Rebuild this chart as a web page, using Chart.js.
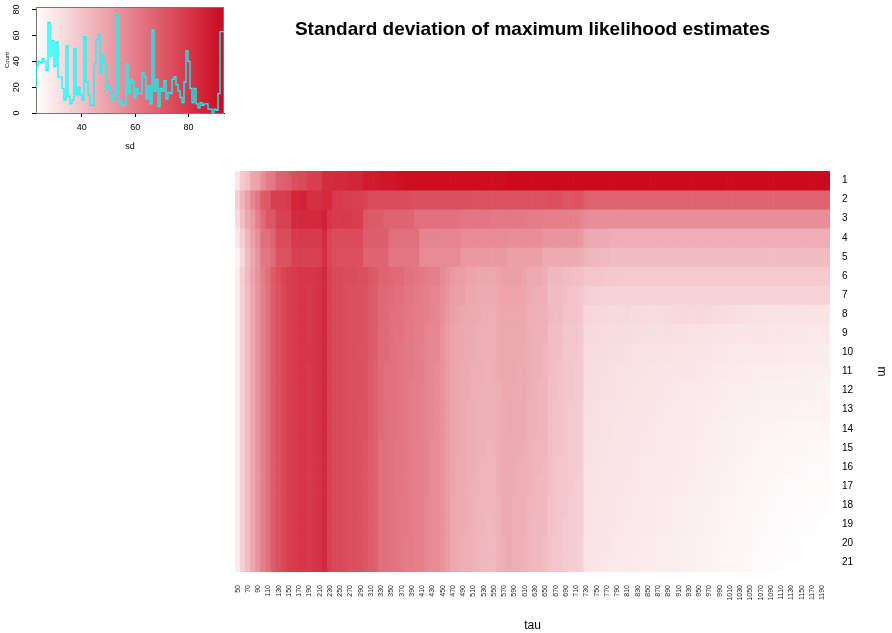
<!DOCTYPE html>
<html>
<head>
<meta charset="utf-8">
<script src="https://cdn.jsdelivr.net/npm/chart.js@4"></script>
<style>
    body { margin: 0; background: #fff; }
    #wrap { position: relative; width: 892px; height: 633px; }
    #heat { position: absolute; left: 0; top: 0; }
    #key { position: absolute; left: 0; top: 0; }
    #title {
        position: absolute; left: 235px; width: 595px; top: 18px;
        text-align: center; font: bold 19px "Liberation Sans", Arial, sans-serif; color: #000;
    }
</style>
</head>
<body>
<div id="wrap">
    <canvas id="heat" width="892" height="633"></canvas>
    <canvas id="key" width="230" height="158"></canvas>
    <div id="title">Standard deviation of maximum likelihood estimates</div>
</div>
<script>
const tau = [50,60,70,80,90,100,110,120,130,140,150,160,170,180,190,200,210,220,230,240,250,260,270,280,290,300,310,320,330,340,350,360,370,380,390,400,410,420,430,440,450,460,470,480,490,500,510,520,530,540,550,560,570,580,590,600,610,620,630,640,650,660,670,680,690,700,710,720,730,740,750,760,770,780,790,800,810,820,830,840,850,860,870,880,890,900,910,920,930,940,950,960,970,980,990,1000,1010,1020,1030,1040,1050,1060,1070,1080,1090,1100,1110,1120,1130,1140,1150,1160,1170,1180,1190,1200]
const mLabels = ['1','2','3','4','5','6','7','8','9','10','11','12','13','14','15','16','17','18','19','20','21']

// sd of the estimates, one array per m, columns follow tau
const sdM1 = [30,38,41,48,49,55,60,61,67,68, 69,73,74,74,77,78,78,83,83,84, 84,84,85,85,85,88,88,88,89,89, 89,90,91,92,92,92,92,92,92,92, 92,92,92,92,92,92,92,92,92,92, 92,92,92,93,93,93,93,93,93,93, 93,93,93,93,93,93,93,93,93,93, 93,93,93,93,93,93,93,93,93,93, 93,93,93,93,93,93,93,93,93,93, 93,93,93,93,93,93,93,93,93,93, 93,93,93,93,93,93,93,93,93,93, 93,93,93,93,93,93]
const sdM2 = [37,44,50,57,62,70,70,78,78,78, 79,85,85,86,82,82,82,84,84,79, 79,78,78,77,77,76,74,74,74,74, 74,74,74,74,73,73,73,73,73,73, 73,73,73,73,73,73,72,72,72,72, 72,72,72,72,72,72,72,72,72,72, 72,73,73,73,71,71,72,72,68,67, 67,67,67,67,67,67,67,67,67,67, 67,67,67,67,67,67,67,67,67,67, 67,67,67,67,67,67,67,67,67,67, 67,67,67,67,67,67,67,67,67,67, 67,67,67,67,67,67]
const sdM3 = [33,41,48,52,59,65,71,71,77,77, 77,84,84,84,84,84,84,86,80,79, 79,79,79,78,78,71,70,70,70,67, 67,67,67,67,67,64,64,64,64,64, 64,64,64,63,62,62,62,62,62,62, 61,61,61,61,61,61,61,60,60,60, 59,59,59,59,59,59,59,58,56,55, 55,55,55,55,55,55,55,55,55,55, 55,55,55,55,55,55,55,55,55,55, 55,55,55,55,55,55,55,55,55,55, 55,55,55,55,55,55,55,55,55,55, 55,55,55,55,55,55]
const sdM4 = [30,37,44,50,55,64,64,67,74,74, 74,79,79,79,79,79,79,84,76,74, 74,74,74,74,74,69,69,69,69,69, 64,64,64,64,64,64,58,58,58,58, 58,58,58,58,56,56,56,56,56,56, 56,56,56,55,55,55,55,55,55,55, 53,53,53,53,53,53,53,52,48,47, 47,47,47,46,46,46,46,46,46,46, 46,46,46,46,46,46,46,46,46,46, 46,46,46,46,46,46,46,46,46,46, 46,46,46,46,46,46,46,46,46,46, 46,46,46,46,46,46]
const sdM5 = [27,34,42,48,53,62,62,65,72,72, 72,77,77,77,77,77,77,82,76,74, 73,73,73,73,73,67,67,67,67,67, 62,62,62,62,62,62,56,56,56,56, 56,56,56,56,52,52,52,52,52,52, 52,52,52,50,50,50,50,50,50,50, 47,47,47,47,47,47,47,46,44,43, 43,43,43,42,42,42,42,42,42,42, 42,42,42,42,42,42,42,42,42,42, 42,42,42,42,42,42,42,42,42,42, 42,42,42,42,42,42,42,42,42,42, 42,42,42,42,42,42]
const sdM6 = [28,37,43,49,54,60,64,70,73,76, 78,79,80,80,80,80,81,84,77,75, 75,74,74,74,73,73,71,70,67,67, 66,65,65,63,63,62,61,60,59,59, 56,54,52,51,51,49,49,48,48,48, 48,49,50,50,50,50,49,47,47,47, 46,43,43,43,42,42,41,41,
    39,39,39,39,38.5,38.5,38.5,38, 38,38,38,38,38,38,38,38,38,38, 38,38,38,38,38,38,38,38,38,38, 38,38,38,38,38,38,38,38,38,38, 38,38,38,38,38,38,38,38,38,38]
const sdM7 = [28,36,42,48,53,59,63,69,72,75, 78,79,80,80,79,80,81,84,77,75, 75,74,73,73,73,72,70,69,66,66, 65,64,64,62,62,61,60,59,58,58, 55,53,51,50,50,48,48,47,47,47, 47,48,49,49,49,49,48,47,46,46, 45,42,42,42,41,40,40,39,
    37,36,36,35.5,35.5,35.5,35,35, 35,35,35,35,35,35,35,35,35,35, 35,35,35,35,35,35,35,35,35,35, 35,35,35,35,35,35,35,35,35,35, 35,35,35,35,35,35,35,35,35,35]
const sdM8 = [28,36,42,48,53,59,63,69,72,75, 78,79,80,80,79,80,81,84,77,75, 75,74,73,73,73,72,70,69,66,65, 64,64,63,62,61,60,60,59,58,57, 55,52,50,49,48,48,47,47,46,46, 46,47,48,48,48,48,48,46,46,45, 45,43,42,42,40,40,40,39,
    34.5,34.1,34.1,33.8,33.8,33.4,33.4,33.4,33.6, 33.2,33.0,33.0,32.9,32.8,32.8, 33.0,33.2,33.4,33.6,33.8,33.6,33.4, 33.6,33.8,33.4,33.0,32.6,32.4,32.2,32.0, 31.8,31.6,31.5,31.4,31.3,31.3,31.2,31.2, 31.1,31.1,31.0,31.0,31.0,30.9,30.9,30.8,30.8,30.8]
const sdM9 = [28,36,42,48,53,59,63,69,72,75, 78,79,80,80,79,80,81,84,77,75, 75,74,73,73,73,72,70,69,65,65, 64,63,63,61,61,60,60,58,57,57, 54,51,49,48,48,47,47,46,46,46, 46,47,48,48,48,48,48,46,45,45, 45,42,41,41,39,39,39,38,
    33.6,33.4,33.2,33.0,32.8,32.6,32.6,32.4,32.4, 32.2,32.0,32.0,31.8,31.8,31.6, 31.6,31.8,31.8,31.6,31.6,31.4,31.4, 31.2,31.0,31.0,30.8,30.6,30.4,30.4,30.2, 30.0,30.0,29.9,30.4,30.6,30.2,29.9,29.8, 29.8,29.7,29.7,29.6,29.6,29.5,29.5,29.4,29.4,29.4]
const sdM10 = [28,36,42,48,53,59,63,69,72,75, 78,79,80,80,80,80,81,84,77,75, 75,74,73,73,72,72,70,69,65,65, 64,63,62,61,61,60,59,58,57,57, 54,51,49,48,48,47,47,46,46,46, 46,47,48,48,48,48,47,46,45,45, 44,42,41,41,39,39,39,38,
    33.0,32.8,32.6,32.4,32.2,32.0,31.8,31.8,31.6, 31.4,31.2,31.2,31.0,31.0,30.8, 30.8,30.8,30.6,30.6,30.4,30.4,30.2, 30.2,30.0,30.0,29.8,29.6,29.6,29.4,29.4, 29.2,29.2,29.0,29.0,28.9,28.8,28.8,28.7, 28.7,28.6,28.6,28.5,28.5,28.4,28.4,28.4,28.3,28.3]
const sdM11 = [28,36,42,48,53,59,63,69,72,75, 78,79,80,80,79,80,81,84,77,75, 75,74,73,73,73,72,70,68,65,64, 64,63,62,61,61,60,60,58,57,56, 54,51,49,48,47,47,46,46,46,45, 46,47,48,48,48,47,47,46,45,45, 44,42,41,40,39,39,38,38,
    32.6,32.4,32.2,32.0,31.8,31.6,31.4,31.4,31.2, 31.0,30.8,30.8,30.6,30.6,30.4, 30.4,30.2,30.2,30.0,30.0,29.8,29.8, 29.6,29.6,29.4,29.2,29.0,29.0,28.8,28.6, 28.5,28.4,28.3,28.2,28.1,28.0,27.9,27.8, 27.8,27.7,27.7,27.6,27.6,27.5,27.5,27.4,27.4,27.4]
const sdM12 = [28,36,42,48,53,59,63,69,72,75, 78,79,80,80,79,80,81,84,77,75, 75,74,73,73,73,72,70,68,65,64, 64,63,62,61,60,60,59,58,57,56, 54,51,49,48,47,47,46,46,45,45, 45,46,48,48,47,47,47,46,45,44, 44,41,41,40,39,39,38,38,
    32.3,32.1,31.9,31.7,31.5,31.3,31.1,31.0,30.9, 30.7,30.5,30.4,30.3,30.2,30.0, 29.9,29.8,29.7,29.6,29.5,29.4,29.3, 29.2,29.0,28.9,28.7,28.5,28.3,28.1,28.0, 27.9,27.8,27.7,27.6,27.5,27.4,27.3,27.2, 27.1,27.0,27.0,26.9,26.9,26.8,26.8,26.7,26.7,26.6]
const sdM13 = [28,36,42,48,53,59,63,69,72,75, 78,79,80,80,79,80,81,84,77,75, 75,74,73,73,72,72,70,68,65,64, 63,63,62,61,60,60,59,58,57,56, 54,51,49,48,47,46,46,45,45,45, 45,46,47,48,47,47,47,45,45,44, 44,41,40,40,39,38,38,37,
    32.0,31.8,31.6,31.4,31.2,31.0,30.8,30.7,30.6, 30.4,30.2,30.1,30.0,29.9,29.7, 29.6,29.5,29.4,29.3,29.2,29.0,28.9, 28.8,28.6,28.4,28.2,28.0,27.8,27.6,27.4, 27.3,27.2,27.0,26.9,26.8,26.7,26.6,26.5, 26.4,26.4,26.3,26.3,26.2,26.2,26.1,26.1,26.0,26.0]
const sdM14 = [28,36,42,48,53,59,63,69,72,75, 78,79,80,80,79,80,81,84,77,75, 75,74,73,73,72,72,70,68,65,64, 63,63,62,61,60,60,59,58,57,56, 54,51,49,48,47,46,46,45,45,45, 45,46,47,48,47,47,47,45,45,44, 44,41,40,40,39,38,38,37,
    31.8,31.6,31.4,31.2,31.0,30.8,30.6,30.5,30.4, 30.2,30.0,29.9,29.8,29.7,29.5, 29.4,29.3,29.2,29.1,29.0,28.8,28.7, 28.5,28.3,28.1,27.9,27.7,27.5,27.3,27.1, 26.9,26.7,26.5,26.4,26.3,26.2,26.1,26.0, 25.9,25.8,25.7,25.7,25.6,25.6,25.5,25.5,25.4,25.4]
const sdM15 = [28,36,42,48,53,59,63,69,72,75, 78,79,80,80,79,80,81,84,77,75, 75,74,73,73,72,71,69,68,64,64, 63,62,62,61,60,59,59,58,56,56, 54,51,49,48,47,46,46,45,45,44, 45,46,47,47,47,47,46,45,44,44, 44,41,40,40,39,38,38,37,
    31.6,31.4,31.2,31.0,30.8,30.6,30.4,30.3,30.2, 30.0,29.8,29.7,29.6,29.5,29.3, 29.2,29.1,29.0,28.9,28.8,28.6,28.4, 28.2,28.0,27.8,27.6,27.4,27.2,27.0,26.8, 26.6,26.4,26.2,26.0,25.8,25.6,25.5,25.4, 25.3,25.2,25.1,25.0,25.0,24.9,24.9,24.8,24.8,24.7]
const sdM16 = [28,36,42,48,53,59,63,69,72,75, 78,79,80,80,79,80,81,84,77,75, 75,74,73,73,72,71,69,68,64,64, 63,62,62,61,60,59,59,58,56,56, 54,51,49,47,47,46,46,45,44,44, 44,46,47,47,47,46,46,45,44,44, 43,41,40,39,39,38,38,37,
    31.4,31.2,31.0,30.8,30.6,30.4,30.2,30.1,30.0, 29.8,29.6,29.5,29.4,29.3,29.1, 29.0,28.9,28.8,28.7,28.5,28.3,28.1, 27.9,27.7,27.5,27.3,27.1,26.9,26.7,26.5, 26.3,26.1,25.9,25.7,25.5,25.3,25.2,25.1, 25.0,24.9,24.8,24.7,24.6,24.5,24.5,24.4,24.4,24.3]
const sdM17 = [28,36,42,48,53,59,63,69,72,75, 78,79,80,80,79,80,81,84,77,75, 75,74,73,73,72,71,69,68,64,64, 63,62,62,61,60,59,59,58,56,56, 54,51,49,47,47,46,45,45,44,44, 44,46,47,47,47,46,46,45,44,43, 43,41,40,39,39,38,37,37,
    31.2,31.0,30.8,30.6,30.4,30.2,30.0,29.9,29.8, 29.6,29.4,29.3,29.2,29.1,28.9, 28.8,28.7,28.6,28.4,28.2,28.0,27.8, 27.6,27.4,27.2,27.0,26.8,26.6,26.4,26.2, 26.0,25.8,25.6,25.4,25.2,25.0,24.9,24.8, 24.6,24.5,24.4,24.3,24.2,24.1,24.0,24.0,23.9,23.9]
const sdM18 = [28,36,42,48,53,59,63,69,72,75, 78,79,80,80,79,80,81,84,77,75, 75,74,73,73,72,71,69,68,64,64, 63,62,61,61,60,59,59,57,56,56, 54,51,48,47,47,46,45,44,44,44, 44,45,47,47,46,46,46,44,44,43, 43,40,40,39,39,37,37,37,
    31.0,30.8,30.6,30.4,30.2,30.0,29.8,29.7,29.6, 29.4,29.2,29.1,29.0,28.9,28.7, 28.6,28.5,28.3,28.1,27.9,27.7,27.5, 27.3,27.1,26.9,26.7,26.5,26.3,26.1,25.9, 25.7,25.5,25.3,25.1,24.9,24.7,24.6,24.5, 24.3,24.2,24.1,24.0,23.9,23.8,23.7,23.7,23.6,23.6]
const sdM19 = [28,36,42,48,53,59,63,69,72,75, 78,79,80,80,79,80,81,84,77,75, 75,74,73,73,72,71,69,68,64,64, 63,62,61,61,60,59,59,57,56,56, 54,51,48,47,47,46,45,44,44,43, 44,45,47,47,46,46,46,44,43,43, 43,40,40,39,38,37,37,37,
    30.8,30.6,30.4,30.2,30.0,29.8,29.6,29.5,29.4, 29.2,29.0,28.9,28.8,28.7,28.5, 28.4,28.3,28.1,27.9,27.7,27.5,27.3, 27.1,26.9,26.7,26.5,26.3,26.1,25.9,25.7, 25.5,25.3,25.1,24.9,24.7,24.5,24.3,24.2, 24.0,23.9,23.8,23.7,23.6,23.5,23.4,23.4,23.3,23.3]
const sdM20 = [28,36,42,48,53,59,63,69,72,75, 78,79,80,80,79,80,81,84,77,75, 75,74,73,73,72,71,69,68,64,64, 63,62,61,60,60,59,59,57,56,56, 54,51,48,47,46,46,45,44,43,43, 43,45,46,47,46,46,45,44,43,43, 42,40,39,39,38,37,37,36,
    30.6,30.4,30.2,30.0,29.8,29.6,29.4,29.3,29.2, 29.0,28.8,28.7,28.6,28.5,28.3, 28.2,28.1,27.9,27.7,27.5,27.3,27.1, 26.9,26.7,26.5,26.3,26.1,25.9,25.7,25.5, 25.3,25.1,24.9,24.7,24.5,24.3,24.1,23.9, 23.8,23.7,23.6,23.5,23.4,23.3,23.2,23.1,23.1,23.0]
const sdM21 = [28,36,42,48,53,59,63,69,72,75, 78,79,80,80,79,80,81,84,77,75, 75,74,73,73,72,71,69,68,64,64, 63,62,61,60,60,59,59,57,56,56, 54,51,48,47,46,46,45,44,43,43, 43,45,46,47,46,46,45,44,43,43, 42,40,39,39,38,37,37,36,
    30.4,30.2,30.0,29.8,29.6,29.4,29.2,29.1,29.0, 28.8,28.6,28.5,28.4,28.3,28.1, 28.0,27.9,27.7,27.5,27.3,27.1,26.9, 26.7,26.5,26.3,26.1,25.9,25.7,25.5,25.3, 25.1,24.9,24.7,24.5,24.3,24.1,23.9,23.7, 23.5,23.4,23.3,23.2,23.1,23.0,22.9,22.9,22.8,22.8]

const sdRows = [sdM1, sdM2, sdM3, sdM4, sdM5, sdM6, sdM7, sdM8, sdM9, sdM10, sdM11,
    sdM12, sdM13, sdM14, sdM15, sdM16, sdM17, sdM18, sdM19, sdM20, sdM21]

// colour key: range of sd and histogram counts per break
const keyMin = 22.8
const keyMax = 93.3
const keyBinWidth = 0.75
const keyCounts = [20,36,40,39,42,40,33,70,44,56, 36,55,28,28,19,10,52,13,7,10,
    50,14,20,14,10,59,24,14,6,6, 38,57,61,31,45,38,19,21,15,10,
    15,76,10,8,6,6,38,16,26,24, 12,19,15,15,31,28,11,21,7,64,
    17,26,5,19,17,25,11,16,15,26, 28,22,17,12,8,24,48,40,19,8,
    19,7,4,8,6,7,7,3,3,0, 3,2,15,63]

const LOW = [255, 255, 255]
const HIGH = [204, 8, 30]
const FONT = '"Liberation Sans", Arial, sans-serif'

function sdColor(v) {
    const t = Math.min(1, Math.max(0, (v - keyMin) / (keyMax - keyMin)))
    const c = LOW.map((lo, i) => Math.round(lo + t * (HIGH[i] - lo)))
    return `rgb(${c[0]},${c[1]},${c[2]})`
}

const heatDatasets = sdRows.map((row, r) => ({
    label: mLabels[r],
    data: tau.map(() => 1),
    backgroundColor: row.map(sdColor),
    borderWidth: 0,
    barPercentage: 1,
    categoryPercentage: 1
}))

new Chart(document.getElementById('heat').getContext('2d'), {
    type: 'bar',
    data: { labels: tau.map(String), datasets: heatDatasets },
    options: {
        responsive: false,
        animation: false,
        layout: { padding: { left: 235, top: 171, right: 0, bottom: 0 } },
        plugins: { legend: { display: false }, tooltip: { enabled: false } },
        scales: {
            x: {
                stacked: true,
                grid: { display: false },
                border: { display: false },
                ticks: {
                    autoSkip: false,
                    minRotation: 90,
                    maxRotation: 90,
                    padding: 5,
                    color: '#222',
                    font: { family: FONT, size: 7 },
                    callback: (v, i) => i % 2 === 0 ? tau[i] : ''
                },
                title: {
                    display: true, text: 'tau', color: '#000',
                    font: { family: FONT, size: 12 }, padding: { top: 0, bottom: 0 }
                },
                afterFit: s => { s.height = 61 }
            },
            y: {
                stacked: true,
                reverse: true,
                min: 0,
                max: 21,
                display: false
            },
            y2: {
                type: 'category',
                labels: mLabels,
                position: 'right',
                offset: true,
                grid: { display: false },
                border: { display: false },
                ticks: { padding: 4, color: '#000', font: { family: FONT, size: 10 } },
                title: {
                    display: true, text: 'm', color: '#000',
                    font: { family: FONT, size: 12 }, padding: { top: 3, bottom: 0 }
                },
                afterFit: s => { s.width = 62 }
            }
        }
    }
})

const keyPoints = keyCounts.map((c, i) => ({ x: keyMin + i * keyBinWidth, y: c }))
keyPoints.push({ x: keyMin + keyCounts.length * keyBinWidth, y: keyCounts[keyCounts.length - 1] })

const keyGradient = {
    id: 'keyGradient',
    beforeDatasetsDraw(chart) {
        const { ctx, chartArea: a } = chart
        const g = ctx.createLinearGradient(a.left, 0, a.right, 0)
        g.addColorStop(0, sdColor(keyMin))
        g.addColorStop(0.5, sdColor((keyMin + keyMax) / 2))
        g.addColorStop(1, sdColor(keyMax))
        ctx.save()
        ctx.fillStyle = g
        ctx.fillRect(a.left, a.top, a.right - a.left, a.bottom - a.top)
        ctx.strokeStyle = '#777'
        ctx.lineWidth = 1
        ctx.strokeRect(a.left + 0.5, a.top + 0.5, a.right - a.left - 1, a.bottom - a.top)
        ctx.restore()
    }
}

new Chart(document.getElementById('key').getContext('2d'), {
    type: 'line',
    data: {
        datasets: [{
            data: keyPoints,
            borderColor: '#00ffff',
            borderWidth: 1.3,
            pointRadius: 0,
            stepped: 'after',
            fill: false
        }]
    },
    options: {
        responsive: false,
        animation: false,
        layout: { padding: { top: 7, right: 6, left: 0, bottom: 0 } },
        plugins: { legend: { display: false }, tooltip: { enabled: false } },
        scales: {
            x: {
                type: 'linear',
                min: keyMin,
                max: keyMax,
                grid: { drawOnChartArea: false, tickLength: 4, tickColor: '#000' },
                border: { color: '#000' },
                ticks: {
                    stepSize: 20, includeBounds: false, padding: 5, color: '#000',
                    font: { family: FONT, size: 9 }
                },
                title: {
                    display: true, text: 'sd', color: '#000',
                    font: { family: FONT, size: 9 }, padding: { top: 0, bottom: 6 }
                },
                afterFit: s => {
                    s.height = 45
                    s.paddingLeft = 0
                    s.paddingRight = 0
                }
            },
            y: {
                min: 0,
                max: 82,
                grid: { drawOnChartArea: false, tickLength: 4, tickColor: '#000' },
                border: { color: '#000' },
                ticks: {
                    stepSize: 20, includeBounds: false, padding: 10, color: '#000',
                    minRotation: 90, maxRotation: 90, crossAlign: 'center',
                    font: { family: FONT, size: 9 }
                },
                title: {
                    display: true, text: 'Count', color: '#000',
                    font: { family: FONT, size: 6 }, padding: { top: 4, bottom: 0 }
                },
                afterFit: s => {
                    s.width = 36
                    s.paddingTop = 0
                    s.paddingBottom = 0
                }
            }
        }
    },
    plugins: [keyGradient]
})
</script>
</body>
</html>
